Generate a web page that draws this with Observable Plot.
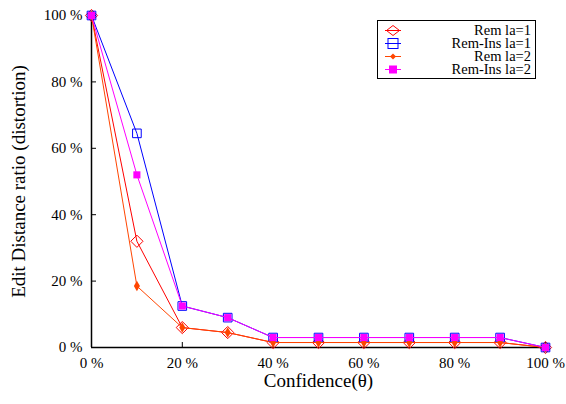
<!DOCTYPE html>
<html><head><meta charset="utf-8">
<script src="https://cdn.jsdelivr.net/npm/d3@7"></script>
<script src="https://cdn.jsdelivr.net/npm/@observablehq/plot@0.6"></script>
<style>
html,body{margin:0;padding:0;background:#fff;}
#wrap{position:relative;width:566px;height:404px;font-family:'Liberation Serif','Times New Roman',Times,'DejaVu Serif',serif;}
#wrap svg text{font-family:'Liberation Serif','Times New Roman',Times,'DejaVu Serif',serif;font-variant:normal;}
#legend{position:absolute;left:377px;top:20px;width:157px;height:57px;border:1px solid #000;background:#fff;box-sizing:content-box;}
.row{position:absolute;left:0;width:153px;height:13px;font-size:14.5px;line-height:13px;text-align:right;color:#000;white-space:nowrap;}
.row svg{position:absolute;left:7px;top:0;}
</style>
</head><body><div id="wrap"></div>
<script>
const confidence = [0, 10, 20, 30, 40, 50, 60, 70, 80, 90, 100];
const remLa1    = [100, 32,   6,  4.5, 1.5, 1.5, 1.5, 1.5, 1.5, 1.5, 0];
const remInsLa1 = [100, 64.5, 12.5, 9, 3,   3,   3,   3,   3,   3,   0];
const remLa2    = [100, 18.5, 6,  4.5, 1.5, 1.5, 1.5, 1.5, 1.5, 1.5, 0];
const remInsLa2 = [100, 52,   12.5, 9, 3,   3,   3,   3,   3,   3,   0];
const seriesNames = ["Rem la=1", "Rem-Ins la=1", "Rem la=2", "Rem-Ins la=2"];
const seriesColors = ["#ff0000", "#0000ff", "#ff4500", "#ff00ff"];
const xTicks = [0, 20, 40, 60, 80, 100];
const yTicks = [0, 20, 40, 60, 80, 100];

const seriesValues = [remLa1, remInsLa1, remLa2, remInsLa2];
const table = seriesValues.flatMap((vals, s) => vals.map((v, i) => ({series: seriesNames[s], x: confidence[i], y: v})));
const bySeries = name => table.filter(d => d.series === name);

const serif = "'Liberation Serif','Times New Roman',Times,'DejaVu Serif',serif";
const fmt = d => d + " %";
const chart = Plot.plot({
  width: 566, height: 404,
  marginLeft: 91, marginRight: 21, marginTop: 15, marginBottom: 57,
  style: {fontFamily: serif, fontSize: "15px", color: "#000", background: "#fff", overflow: "visible"},
  x: {domain: [0, 100]},
  y: {domain: [0, 100]},
  marks: [
    Plot.axisX({ticks: xTicks, tickFormat: fmt, tickSize: -5, tickPadding: 15, label: null, stroke: "#000", strokeOpacity: 1, fontSize: 15, fontVariant: "normal"}),
    Plot.axisY({ticks: yTicks, tickFormat: fmt, tickSize: -5, tickPadding: 14, label: null, stroke: "#000", strokeOpacity: 1, fontSize: 15, fontVariant: "normal"}),
    Plot.ruleX([0], {stroke: "#000", strokeWidth: 1.5}),
    Plot.ruleY([0], {stroke: "#000", strokeWidth: 1.5}),
    Plot.lineY(bySeries(seriesNames[0]), {x: "x", y: "y", stroke: seriesColors[0], strokeWidth: 1}),
    Plot.dot(bySeries(seriesNames[0]), {x: "x", y: "y", symbol: "diamond2", r: 5.5, stroke: seriesColors[0], fill: "none", strokeWidth: 1}),
    Plot.lineY(bySeries(seriesNames[1]), {x: "x", y: "y", stroke: seriesColors[1], strokeWidth: 1}),
    Plot.dot(bySeries(seriesNames[1]), {x: "x", y: "y", symbol: "square2", r: 5.5, stroke: seriesColors[1], fill: "none", strokeWidth: 1}),
    Plot.lineY(bySeries(seriesNames[2]), {x: "x", y: "y", stroke: seriesColors[2], strokeWidth: 1}),
    Plot.dot(bySeries(seriesNames[2]), {x: "x", y: "y", symbol: "diamond", r: 3.2, fill: seriesColors[2], stroke: "none"}),
    Plot.lineY(bySeries(seriesNames[3]), {x: "x", y: "y", stroke: seriesColors[3], strokeWidth: 1}),
    Plot.dot(bySeries(seriesNames[3]), {x: "x", y: "y", symbol: "square", r: 4, fill: seriesColors[3], stroke: "none"}),
    Plot.text(["Confidence(θ)"], {frameAnchor: "bottom", dy: 39, fontSize: 19, fill: "#000"}),
    Plot.text(["Edit Distance ratio (distortion)"], {frameAnchor: "left", textAnchor: "middle", dx: -73, rotate: -90, fontSize: 19, fill: "#000"})
  ]
});
const wrap = document.getElementById("wrap");
wrap.appendChild(chart);

// legend
const legend = document.createElement("div");
legend.id = "legend";
const symbolSvg = (i) => {
  const c = seriesColors[i];
  let shape = "";
  if (i === 0) shape = `<path d="M8,1.5L14.5,6.5L8,11.5L1.5,6.5Z" fill="none" stroke="${c}"/>`;
  if (i === 1) shape = `<rect x="3" y="1.5" width="10" height="10" fill="none" stroke="${c}"/>`;
  if (i === 2) shape = `<path d="M8,3.5L11,6.5L8,9.5L5,6.5Z" fill="${c}"/>`;
  if (i === 3) shape = `<rect x="4" y="2.5" width="8" height="8" fill="${c}"/>`;
  return `<svg width="16" height="13"><line x1="0" x2="16" y1="6.5" y2="6.5" stroke="${c}"/>${shape}</svg>`;
};
seriesNames.forEach((name, i) => {
  const row = document.createElement("div");
  row.className = "row";
  row.style.top = (3 + i * 13) + "px";
  row.innerHTML = symbolSvg(i) + name;
  legend.appendChild(row);
});
wrap.appendChild(legend);
</script></body></html>
